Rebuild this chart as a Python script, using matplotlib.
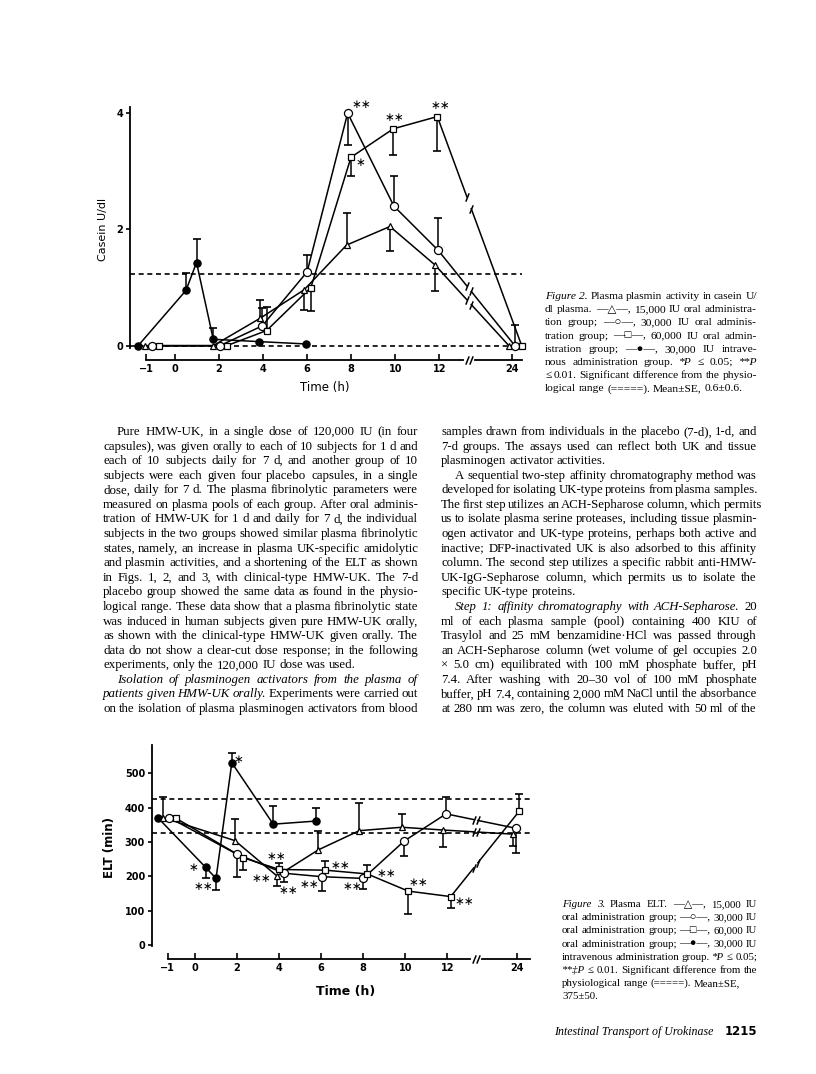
import matplotlib
matplotlib.use("Agg")
import matplotlib.pyplot as plt
import numpy as np
from matplotlib.path import Path
from matplotlib.transforms import blended_transform_factory

W, H = 816, 1074

# ---------------- Figure 2: plasma plasmin activity (casein U/dl)
f2_hours_iv = [-1, 0.5, 1, 2, 4, 6]
f2_iv = [0, 0.95, 1.43, 0.11, 0.07, 0.03]
f2_iv_err = [0, 0.30, 0.41, 0.19, 0, 0]
f2_iv_sig = ['', '', '', '', '', '']

f2_hours = [-1, 2, 4, 6, 8, 10, 12, 24]
f2_15k = [0, 0, 0.47, 0.96, 1.73, 2.05, 1.39, 0]
f2_15k_err = [0, 0, 0.32, -0.35, 0.55, -0.43, -0.45, 0]
f2_15k_sig = ['', '', '', '', '', '', '', '']
f2_30k = [0, 0, 0.34, 1.27, 4.00, 2.40, 1.64, 0]
f2_30k_err = [0, 0, 0.30, 0.29, -0.55, 0.51, 0.55, 0.36]
f2_30k_sig = ['', '', '', '', '**', '', '', '']
f2_60k = [0, 0, 0.26, 1.00, 3.24, 3.73, 3.94, 0]
f2_60k_err = [0, 0, 0.40, -0.41, -0.33, -0.45, -0.60, 0]
f2_60k_sig = ['', '', '', '', '*', '**', '**', '']
f2_range = [0.0, 1.24]

# ---------------- Figure 3: plasma ELT (min)
f3_hours_iv = [-1, 0.5, 1, 2, 4, 6]
f3_iv = [371, 226, 194, 531, 352, 361]
f3_iv_err = [0, -32, -34, 29, 54, 38]
f3_iv_sig = ['', '*', '**', '*', '', '']

f3_hours = [-1, 2, 4, 6, 8, 10, 12, 24]
f3_15k = [371, 304, 201, 277, 333, 343, 335, 323]
f3_15k_err = [59, 62, -28, 56, 80, 39, -50, -35]
f3_15k_sig = ['', '', '**', '', '', '', '', '']
f3_30k = [371, 264, 209, 199, 194, 303, 382, 340]
f3_30k_err = [0, -65, -25, -41, -30, -44, 50, -71]
f3_30k_sig = ['', '', '**', '**', '**', '', '', '']
f3_60k = [369, 254, 220, 218, 207, 157, 141, 390]
f3_60k_err = [0, -36, 20, 27, 25, -68, -34, 49]
f3_60k_sig = ['', '', '**', '**', '**', '**', '**', '']
f3_range = [325, 425]

tick_hours = [-1, 0, 2, 4, 6, 8, 10, 12, 24]
tick_labels = ['\u22121', '0', '2', '4', '6', '8', '10', '12', '24']

# broken time axis: 12 -> 24 h squeezed
def pos(h):
    return np.interp(h, [-1, 0, 12, 24], [-1.3, 0, 12, 15.3])

BRK0, BRK1 = 13.25, 13.45
SLASH = Path([(-0.4, -1), (0.4, 1)], [Path.MOVETO, Path.LINETO])

# small horizontal shifts of the markers as drawn in the original
nudge2 = {
    'iv': [-0.37, 0, -0.02, -0.26, -0.17, -0.07],
    '15k': [-0.06, -0.26, -0.14, -0.14, -0.21, -0.24, -0.2, -0.14],
    '30k': [0.24, 0.04, -0.04, 0, -0.16, -0.06, -0.05, 0.13],
    '60k': [0.59, 0.35, 0.16, 0.17, -0.01, -0.09, -0.09, 0.44],
}
nudge3 = {
    'iv': [-0.47, 0.01, 0, -0.25, -0.28, -0.26],
    '15k': [-0.21, -0.1, -0.1, -0.14, -0.19, -0.17, -0.22, -0.2],
    '30k': [0.08, 0.01, 0.25, 0.02, 0, -0.05, -0.06, -0.04],
    '60k': [0.4, 0.3, 0.01, 0.2, 0.19, 0.14, 0.16, 0.12],
}
# where the asterisks sit relative to their point (pixels)
sig_off2 = {('30k', 4): (14, 9), ('60k', 4): (10, -5), ('60k', 5): (1, 11), ('60k', 6): (3, 11)}
sig_off3 = {('iv', 1): (-12, 0), ('iv', 2): (-13, -8), ('iv', 3): (7, 3), ('15k', 2): (-16, -2),
            ('30k', 2): (4, -17), ('30k', 3): (-12, -8), ('30k', 4): (-11, -8),
            ('60k', 2): (-3, 13), ('60k', 3): (15, 5), ('60k', 4): (19, 0),
            ('60k', 5): (10, 9), ('60k', 6): (14, -5)}

markers = {'iv': ('o', True, 5.2), '15k': ('^', False, 4.2), '30k': ('o', False, 5.8), '60k': ('s', False, 4.8)}

plt.rcParams['font.family'] = ['DejaVu Sans']
fig = plt.figure(figsize=(W / 100, H / 100), dpi=100)
fig.patch.set_facecolor('white')


def px_axes(left, top, right, bottom):
    return fig.add_axes([left / W, 1 - bottom / H, (right - left) / W, (bottom - top) / H])


def draw_series(ax, key, hours, vals, errs, sig, nudge, sig_off):
    x = pos(np.array(hours, dtype=float)) + np.array(nudge)
    y = np.array(vals, dtype=float)
    kw = dict(color='black', lw=1.1, zorder=3, clip_on=False)
    if hours[-1] == 24:
        xa, ya, xb, yb = x[-2], y[-2], x[-1], y[-1]
        y0 = ya + (yb - ya) * (BRK0 - xa) / (xb - xa)
        y1 = ya + (yb - ya) * (BRK1 - xa) / (xb - xa)
        ax.plot(list(x[:-1]) + [BRK0], list(y[:-1]) + [y0], **kw)
        ax.plot([BRK1, xb], [y1, yb], **kw)
        ax.plot([BRK0, BRK1], [y0, y1], ls='none', marker=SLASH, ms=6, mew=1.1,
                color='black', zorder=3, clip_on=False)
    else:
        ax.plot(x, y, **kw)
    for xi, yi, e in zip(x, y, errs):
        if e:
            ax.vlines(xi, yi, yi + e, color='black', lw=1.1, zorder=2.5)
            ax.plot(xi, yi + e, marker='_', ms=6, mew=1.2, color='black', zorder=2.5)
    m, filled, ms = markers[key]
    ax.plot(x, y, ls='none', marker=m, ms=ms, mew=0.9, mec='black',
            mfc='black' if filled else 'white', zorder=4, clip_on=False)
    for i, s in enumerate(sig):
        if s:
            dx, dy = sig_off[(key, i)]
            ax.annotate(s.replace('*', '\u2217'), (x[i], y[i]), xytext=(dx, dy),
                        textcoords='offset pixels', ha='center', va='center',
                        fontsize=8.5, zorder=5)


def setup_axes(ax, ylim, yticks, bottom_off_px, axis_end, ax_h_px, tick_size):
    ax.set_ylim(ylim)
    ax.spines['top'].set_visible(False)
    ax.spines['right'].set_visible(False)
    ax.spines['left'].set_linewidth(1.3)
    ax.spines['bottom'].set_linewidth(1.3)
    ax.spines['bottom'].set_position(('outward', bottom_off_px * 0.72))
    ax.spines['bottom'].set_bounds(pos(-1), axis_end)
    ax.set_xticks(pos(np.array(tick_hours, dtype=float)))
    ax.set_xticklabels(tick_labels, fontweight='bold', fontsize=tick_size)
    ax.set_yticks(yticks)
    ax.set_yticklabels([str(v) for v in yticks], fontweight='bold', fontsize=tick_size)
    ax.tick_params(axis='x', direction='in', length=4, width=1.2, pad=3)
    ax.tick_params(axis='y', direction='out', length=3, width=1.2, pad=2)
    ax.patch.set_alpha(0)
    # break in the time axis
    tr = blended_transform_factory(ax.transData, ax.transAxes)
    yb = -bottom_off_px / ax_h_px
    ax.plot([BRK0 - 0.05, BRK1 + 0.05], [yb, yb], color='white', lw=3, transform=tr,
            clip_on=False, zorder=6)
    ax.plot([BRK0, BRK1], [yb, yb], ls='none', marker=SLASH, ms=6, mew=1.1, color='black',
            transform=tr, clip_on=False, zorder=7)


# ---- Figure 2 axes
ax2 = px_axes(130, 106.7, 521.7, 348.3)
ax2.set_xlim(-2.04, 15.74)
setup_axes(ax2, (-0.045, 4.11), [0, 2, 4], 11.7, 15.74, 348.3 - 106.7, 7)
for r in f2_range:
    ax2.axhline(r, color='black', lw=1.2, ls=(0, (3, 2.2)), zorder=1)
draw_series(ax2, 'iv', f2_hours_iv, f2_iv, f2_iv_err, f2_iv_sig, nudge2['iv'], sig_off2)
draw_series(ax2, '15k', f2_hours, f2_15k, f2_15k_err, f2_15k_sig, nudge2['15k'], sig_off2)
draw_series(ax2, '30k', f2_hours, f2_30k, f2_30k_err, f2_30k_sig, nudge2['30k'], sig_off2)
draw_series(ax2, '60k', f2_hours, f2_60k, f2_60k_err, f2_60k_sig, nudge2['60k'], sig_off2)
fig.text(103 / W, 1 - 229 / H, 'Casein U/dl', rotation=90, ha='center', va='center', fontsize=8)
fig.text(325 / W, 1 - 387 / H, 'Time (h)', ha='center', va='center', fontsize=8.5)

# ---- Figure 3 axes
ax3 = px_axes(152, 745, 530, 946)
ax3.set_xlim(-2.045, 15.93)
setup_axes(ax3, (-2.9, 582.6), [0, 100, 200, 300, 400, 500], 13, 15.93, 946 - 745, 7)
for r in f3_range:
    ax3.axhline(r, color='black', lw=1.2, ls=(0, (3, 2.2)), zorder=1)
draw_series(ax3, 'iv', f3_hours_iv, f3_iv, f3_iv_err, f3_iv_sig, nudge3['iv'], sig_off3)
draw_series(ax3, '15k', f3_hours, f3_15k, f3_15k_err, f3_15k_sig, nudge3['15k'], sig_off3)
draw_series(ax3, '30k', f3_hours, f3_30k, f3_30k_err, f3_30k_sig, nudge3['30k'], sig_off3)
draw_series(ax3, '60k', f3_hours, f3_60k, f3_60k_err, f3_60k_sig, nudge3['60k'], sig_off3)
fig.text(110 / W, 1 - 847 / H, 'ELT (min)', rotation=90, ha='center', va='center',
         fontsize=8.5, fontweight='bold')
fig.text(346 / W, 1 - 992 / H, 'Time (h)', ha='center', va='center', fontsize=9,
         fontweight='bold')

# ---------------- page text
# '>' = indented first line, '|' at end = not justified, '_' before a word = italic
left_col = [
    ">Pure HMW-UK, in a single dose of 120,000 IU (in four",
    "capsules), was given orally to each of 10 subjects for 1 d and",
    "each of 10 subjects daily for 7 d, and another group of 10",
    "subjects were each given four placebo capsules, in a single",
    "dose, daily for 7 d. The plasma fibrinolytic parameters were",
    "measured on plasma pools of each group. After oral adminis-",
    "tration of HMW-UK for 1 d and daily for 7 d, the individual",
    "subjects in the two groups showed similar plasma fibrinolytic",
    "states, namely, an increase in plasma UK-specific amidolytic",
    "and plasmin activities, and a shortening of the ELT as shown",
    "in Figs. 1, 2, and 3, with clinical-type HMW-UK. The 7-d",
    "placebo group showed the same data as found in the physio-",
    "logical range. These data show that a plasma fibrinolytic state",
    "was induced in human subjects given pure HMW-UK orally,",
    "as shown with the clinical-type HMW-UK given orally. The",
    "data do not show a clear-cut dose response; in the following",
    "experiments, only the 120,000 IU dose was used.|",
    ">_Isolation _of _plasminogen _activators _from _the _plasma _of",
    "_patients _given _HMW-UK _orally. Experiments were carried out",
    "on the isolation of plasma plasminogen activators from blood",
]
right_col = [
    "samples drawn from individuals in the placebo (7-d), 1-d, and",
    "7-d groups. The assays used can reflect both UK and tissue",
    "plasminogen activator activities.|",
    ">A sequential two-step affinity chromatography method was",
    "developed for isolating UK-type proteins from plasma samples.",
    "The first step utilizes an ACH-Sepharose column, which permits",
    "us to isolate plasma serine proteases, including tissue plasmin-",
    "ogen activator and UK-type proteins, perhaps both active and",
    "inactive; DFP-inactivated UK is also adsorbed to this affinity",
    "column. The second step utilizes a specific rabbit anti-HMW-",
    "UK-IgG-Sepharose column, which permits us to isolate the",
    "specific UK-type proteins.|",
    ">_Step _1: _affinity _chromatography _with _ACH-Sepharose. 20",
    "ml of each plasma sample (pool) containing 400 KIU of",
    "Trasylol and 25 mM benzamidine\u00b7HCl was passed through",
    "an ACH-Sepharose column (wet volume of gel occupies 2.0",
    "\u00d7 5.0 cm) equilibrated with 100 mM phosphate buffer, pH",
    "7.4. After washing with 20\u201330 vol of 100 mM phosphate",
    "buffer, pH 7.4, containing 2,000 mM NaCl until the absorbance",
    "at 280 nm was zero, the column was eluted with 50 ml of the",
]
cap2 = [
    "_Figure _2. Plasma plasmin activity in casein U/",
    "dl plasma. \u2014\u25b3\u2014, 15,000 IU oral administra-",
    "tion group; \u2014\u25cb\u2014, 30,000 IU oral adminis-",
    "tration group; \u2014\u25a1\u2014, 60,000 IU oral admin-",
    "istration group; \u2014\u25cf\u2014, 30,000 IU intrave-",
    "nous administration group. _*P \u2264 0.05; _**P",
    "\u2264 0.01. Significant difference from the physio-",
    "logical range (=====). Mean\u00b1SE, 0.6\u00b10.6.|",
]
cap3 = [
    "_Figure _3. Plasma ELT. \u2014\u25b3\u2014, 15,000 IU",
    "oral administration group; \u2014\u25cb\u2014, 30,000 IU",
    "oral administration group; \u2014\u25a1\u2014, 60,000 IU",
    "oral administration group; \u2014\u25cf\u2014, 30,000 IU",
    "intravenous administration group. _*P \u2264 0.05;",
    "_**\u2021P \u2264 0.01. Significant difference from the",
    "physiological range (=====). Mean\u00b1SE,|",
    "375\u00b150.|",
]

SERIF = ['Liberation Serif', 'DejaVu Sans']
renderer = fig.canvas.get_renderer()


def parse(line):
    indent = line.startswith('>')
    if indent:
        line = line[1:]
    justify = not line.endswith('|')
    if not justify:
        line = line[:-1]
    words = []
    for w in line.split(' '):
        if w.startswith('_'):
            words.append((w[1:], 'italic'))
        else:
            words.append((w, 'normal'))
    return indent, justify, words


def word_widths(words, size):
    out = []
    for w, style in words:
        t = fig.text(0, 0, w, fontsize=size, style=style, family=SERIF)
        out.append(t.get_window_extent(renderer).width)
        t.remove()
    return out


def fit_size(lines, x0, x1, indent, s0):
    # largest size at which most justified lines still keep normal word spaces
    ratios = []
    for line in lines:
        ind, just, words = parse(line)
        if not just or len(words) < 3:
            continue
        avail = x1 - x0 - (indent if ind else 0)
        nat = sum(word_widths(words, s0)) + (len(words) - 1) * s0 * 100 / 72 * 0.25
        ratios.append(avail / nat)
    return s0 * np.percentile(ratios, 25)


def text_block(lines, x0, x1, y0, dy, indent, s0):
    size = fit_size(lines, x0, x1, indent, s0)
    em = size * 100 / 72
    for k, line in enumerate(lines):
        ind, just, words = parse(line)
        start = x0 + (indent if ind else 0)
        y = y0 + k * dy
        widths = word_widths(words, size)
        gap = em * 0.25
        if just and len(words) > 1:
            gap = max((x1 - start - sum(widths)) / (len(words) - 1), em * 0.16)
        x = start
        for (w, style), wd in zip(words, widths):
            fig.text(x / W, 1 - y / H, w, fontsize=size, style=style, family=SERIF,
                     ha='left', va='baseline')
            x += wd + gap


text_block(left_col, 103, 418, 435, 14.58, 14, 9)
text_block(right_col, 441, 757, 435, 14.58, 14, 9)
text_block(cap2, 545, 757, 299, 13.2, 0, 8)
text_block(cap3, 562, 757, 907, 13.2, 0, 8)

fig.text(713 / W, 1 - 1035 / H, 'Intestinal Transport of Urokinase', fontsize=8.6,
         style='italic', family=SERIF, ha='right', va='baseline')
fig.text(757 / W, 1 - 1035 / H, '1215', fontsize=8.5, fontweight='bold',
         ha='right', va='baseline')

fig.savefig('out.png', dpi=100, facecolor='white')
